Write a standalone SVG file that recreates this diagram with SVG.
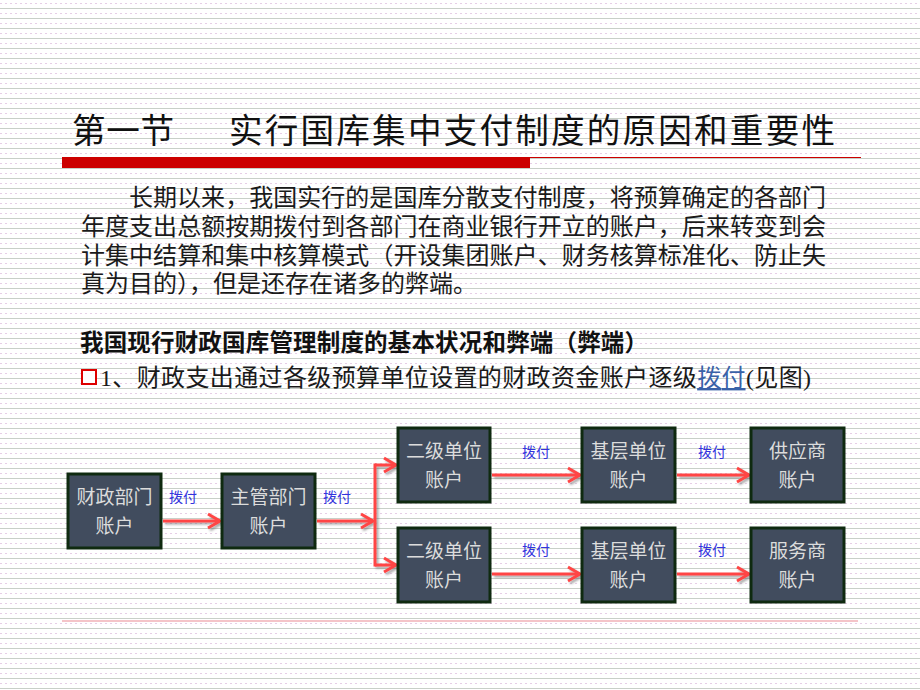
<svg xmlns="http://www.w3.org/2000/svg" width="920" height="690" viewBox="0 0 920 690">
  <defs>
    <pattern id="bg" x="0" y="0" width="10" height="10" patternUnits="userSpaceOnUse">
      <rect width="10" height="10" fill="#ffffff"/>
      <line x1="0" y1="3.5" x2="10" y2="3.5" stroke="#e6cde6" stroke-width="1" stroke-dasharray="2 3"/>
      <line x1="0" y1="8.5" x2="10" y2="8.5" stroke="#c8cfc8" stroke-width="1"/>
    </pattern>
    <marker id="chev" markerWidth="20" markerHeight="20" refX="0" refY="0" viewBox="-14 -10 16 20" orient="auto" markerUnits="userSpaceOnUse">
      <path d="M-12,-7 L0,0 L-12,7" fill="none" stroke="#ff4545" stroke-width="3" stroke-linejoin="miter"/>
    </marker>
    <filter id="shadow" x="-10%" y="-10%" width="120%" height="120%">
      <feDropShadow dx="2" dy="2" stdDeviation="1" flood-color="#555555" flood-opacity="0.5"/>
    </filter>
  </defs>
  <style>
    .serif { font-family: "Liberation Serif", "Noto Sans CJK SC", serif; }
    .title { font-size: 33.6px; fill: #111111; }
    .para { font-size: 24px; fill: #1a1a1a; }
    .head { font-family: "Noto Sans CJK SC", sans-serif; font-size: 23.5px; font-weight: 700; fill: #111111; }
    .box rect { fill: #414c5e; stroke: #0f2a10; stroke-width: 3; }
    .box text { font-family: "Liberation Serif", "Noto Sans CJK SC", serif; font-size: 19px; fill: #dcdcdc; text-anchor: middle; }
    .conn line, .conn path { stroke: #ff4545; stroke-width: 3; fill: none; }
    .lbl { font-family: "Noto Sans CJK SC", sans-serif; font-size: 14px; fill: #3333dd; text-anchor: middle; }
  </style>

  <rect x="0" y="0" width="920" height="690" fill="url(#bg)"/>

  <!-- title -->
  <text class="serif title" x="72" y="143" textLength="102" lengthAdjust="spacing">第一节</text>
  <text class="serif title" x="229" y="143" textLength="606" lengthAdjust="spacing">实行国库集中支付制度的原因和重要性</text>
  <rect x="62" y="157" width="468" height="11" fill="#cc0000"/>
  <line x1="530" y1="157.5" x2="861" y2="157.5" stroke="#cc0000" stroke-width="1.2"/>

  <!-- paragraph -->
  <text class="serif para" x="129" y="206" textLength="697" lengthAdjust="spacing">长期以来，我国实行的是国库分散支付制度，将预算确定的各部门</text>
  <text class="serif para" x="81" y="235" textLength="745" lengthAdjust="spacing">年度支出总额按期拨付到各部门在商业银行开立的账户，后来转变到会</text>
  <text class="serif para" x="81" y="264" textLength="745" lengthAdjust="spacing">计集中结算和集中核算模式（开设集团账户、财务核算标准化、防止失</text>
  <text class="serif para" x="81" y="292">真为目的），但是还存在诸多的弊端。</text>

  <text class="head" x="80" y="351" textLength="568" lengthAdjust="spacing">我国现行财政国库管理制度的基本状况和弊端（弊端）</text>

  <rect x="82" y="370" width="14" height="14" fill="#ffffff" stroke="#dd0000" stroke-width="2"/>
  <text class="serif para" x="100" y="386" textLength="711" lengthAdjust="spacing">1、财政支出通过各级预算单位设置的财政资金账户逐级<tspan fill="#3a62a8" text-decoration="underline">拨付</tspan>(见图)</text>

  <!-- connectors -->
  <g id="connectors" class="conn" filter="url(#shadow)">
    <line x1="163" y1="521" x2="220" y2="521" marker-end="url(#chev)"/>
    <line x1="317" y1="521" x2="373" y2="521" marker-end="url(#chev)"/>
    <line x1="375" y1="463.5" x2="375" y2="566.5"/>
    <line x1="375" y1="465" x2="396" y2="465" marker-end="url(#chev)"/>
    <line x1="375" y1="565" x2="396" y2="565" marker-end="url(#chev)"/>
    <line x1="492" y1="475" x2="580" y2="475" marker-end="url(#chev)"/>
    <line x1="677" y1="475" x2="749" y2="475" marker-end="url(#chev)"/>
    <line x1="492" y1="574" x2="580" y2="574" marker-end="url(#chev)"/>
    <line x1="677" y1="574" x2="749" y2="574" marker-end="url(#chev)"/>
  </g>
  <g id="connector-labels">
    <text class="lbl" x="183" y="502">拨付</text>
    <text class="lbl" x="337" y="502">拨付</text>
    <text class="lbl" x="536" y="457">拨付</text>
    <text class="lbl" x="712" y="457">拨付</text>
    <text class="lbl" x="536" y="555">拨付</text>
    <text class="lbl" x="712" y="555">拨付</text>
  </g>

  <!-- nodes -->
  <g id="node-caizheng" class="box">
    <rect x="68" y="474" width="93" height="74"/>
    <text x="114.5" y="504">财政部门</text>
    <text x="114.5" y="533">账户</text>
  </g>
  <g id="node-zhuguan" class="box">
    <rect x="222" y="474" width="93" height="74"/>
    <text x="268.5" y="504">主管部门</text>
    <text x="268.5" y="533">账户</text>
  </g>
  <g id="node-erji-1" class="box">
    <rect x="398" y="428" width="92" height="74"/>
    <text x="444" y="458">二级单位</text>
    <text x="444" y="487">账户</text>
  </g>
  <g id="node-jiceng-1" class="box">
    <rect x="582" y="428" width="93" height="74"/>
    <text x="628.5" y="458">基层单位</text>
    <text x="628.5" y="487">账户</text>
  </g>
  <g id="node-gongying" class="box">
    <rect x="751" y="428" width="93" height="74"/>
    <text x="797.5" y="458">供应商</text>
    <text x="797.5" y="487">账户</text>
  </g>
  <g id="node-erji-2" class="box">
    <rect x="398" y="528" width="92" height="74"/>
    <text x="444" y="558">二级单位</text>
    <text x="444" y="587">账户</text>
  </g>
  <g id="node-jiceng-2" class="box">
    <rect x="582" y="528" width="93" height="74"/>
    <text x="628.5" y="558">基层单位</text>
    <text x="628.5" y="587">账户</text>
  </g>
  <g id="node-fuwu" class="box">
    <rect x="751" y="528" width="93" height="74"/>
    <text x="797.5" y="558">服务商</text>
    <text x="797.5" y="587">账户</text>
  </g>

  <line x1="62" y1="621" x2="858" y2="621" stroke="#f4c4c8" stroke-width="2"/>
</svg>
